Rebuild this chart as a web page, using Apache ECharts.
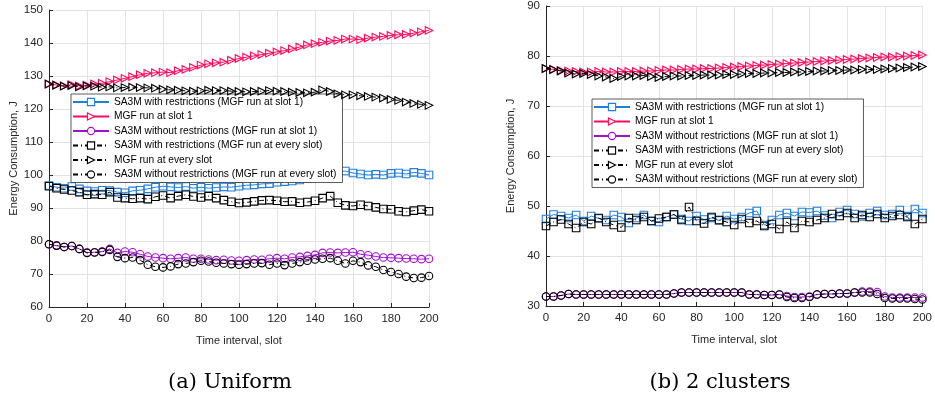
<!DOCTYPE html>
<html><head><meta charset="utf-8">
<script src="https://cdn.jsdelivr.net/npm/echarts@6/dist/echarts.min.js"></script>
<style>html,body{margin:0;padding:0;background:#fff}#c{width:935px;height:405px}</style>
</head><body><div id="c"></div>
<script>
const slots = [0,4,8,12,16,20,24,28,32,36,40,44,48,52,56,60,64,68,72,76,80,84,88,92,96,100,104,108,112,116,120,124,128,132,136,140,144,148,152,156,160,164,168,172,176,180,184,188,192,196,200];
const seriesNames = ['SA3M with restrictions (MGF run at slot 1)','MGF run at slot 1','SA3M without restrictions (MGF run at slot 1)','SA3M with restrictions (MGF run at every slot)','MGF run at every slot','SA3M without restrictions (MGF run at every slot)'];
const xTicks = [0,20,40,60,80,100,120,140,160,180,200];
const captions = ['(a) Uniform','(b) 2 clusters'];
const yTitle = 'Energy Consumption, J';
const xTitle = 'Time interval, slot';

// (a) Uniform
const aBlueSlot1 = [96.8,96.3,96.0,96.5,95.8,95.2,95.0,95.4,95.3,94.8,94.6,95.2,95.4,95.8,96.3,96.6,96.4,96.2,96.5,96.0,96.3,96.0,96.2,96.4,96.3,96.6,96.9,97.0,97.3,97.4,97.8,98.0,98.2,98.5,98.9,99.2,99.8,100.6,101.0,101.2,100.6,100.3,100.0,100.2,100.0,100.5,100.6,100.3,100.8,100.5,100.0];
const aPinkSlot1 = [127.5,127.3,127.0,127.4,127.0,127.2,127.6,127.8,128.3,128.8,129.3,129.8,130.4,130.8,131.0,131.2,131.0,131.6,132.0,132.6,133.3,133.7,134.0,134.2,134.8,135.3,135.7,136.1,136.5,136.9,137.3,137.7,138.2,138.8,139.4,139.8,140.2,140.6,140.8,141.2,141.2,141.0,141.5,141.8,142.0,142.3,142.5,142.6,143.0,143.4,143.8];
const aPurpleSlot1 = [79.0,78.6,78.2,78.5,77.6,76.5,76.6,76.8,77.6,76.4,76.8,76.6,76.0,75.3,75.0,74.8,74.6,74.8,75.0,74.6,74.6,74.4,74.2,74.3,74.1,74.0,74.2,74.4,74.3,74.6,74.8,74.6,75.0,75.2,75.5,75.8,76.4,76.5,76.4,76.5,76.6,76.0,75.7,75.3,75.0,74.9,74.8,74.7,74.6,74.5,74.6];
const aBlackSq = [96.6,96.0,95.6,95.3,94.8,94.0,94.2,94.0,94.8,93.2,93.0,92.8,93.0,92.7,93.4,93.8,93.0,93.6,94.0,93.5,93.2,93.6,93.0,92.4,91.9,91.5,91.7,92.0,92.3,92.4,92.2,91.9,92.0,91.6,91.8,92.2,93.0,93.6,91.6,90.8,90.6,91.0,90.6,90.2,89.7,89.6,89.0,88.8,89.2,89.5,89.0];
const aBlackTri = [127.6,127.2,126.9,127.1,126.7,127.0,126.9,126.6,126.7,126.4,126.5,126.6,126.5,126.4,126.3,126.0,125.8,125.7,125.5,125.4,125.5,125.7,125.6,125.6,125.4,125.3,125.2,125.3,125.4,125.6,125.4,125.3,125.1,125.0,124.9,125.1,125.8,125.3,124.6,124.3,124.3,124.0,123.8,123.6,123.3,122.9,122.6,122.1,121.7,121.4,121.1];
const aBlackCirc = [79.0,78.6,78.2,78.5,77.6,76.4,76.5,76.7,77.3,75.2,74.8,75.0,74.2,72.8,72.2,72.0,72.3,73.0,73.2,73.6,74.0,73.8,73.4,73.2,73.0,72.8,73.0,73.2,73.3,72.8,73.2,72.7,73.2,73.6,74.0,74.4,74.6,74.8,74.0,73.2,74.0,73.6,72.6,72.2,71.2,70.6,70.0,69.2,68.8,68.9,69.4];

// (b) 2 clusters
const bBlueSlot1 = [47.4,48.3,48.0,47.6,48.2,47.0,48.0,47.5,47.2,48.2,47.8,46.6,47.6,48.2,47.0,46.8,47.8,48.3,47.4,47.0,48.0,47.3,47.6,47.1,48.0,47.4,47.8,48.6,49.0,46.2,47.2,48.2,48.6,48.0,48.8,48.7,49.0,48.1,47.6,48.8,49.2,48.4,47.9,48.6,49.0,48.2,48.4,49.2,48.0,49.4,48.6];
const bPinkSlot1 = [77.5,77.3,77.1,77.0,76.9,76.8,76.8,76.9,76.8,76.8,76.9,76.9,76.9,77.0,77.0,77.1,77.2,77.2,77.3,77.4,77.4,77.5,77.5,77.6,77.7,77.8,77.9,78.0,78.1,78.2,78.3,78.4,78.5,78.6,78.7,78.8,78.9,79.0,79.1,79.2,79.3,79.4,79.5,79.6,79.7,79.8,79.8,79.9,80.0,80.1,80.2];
const bPurpleSlot1 = [31.9,31.9,32.1,32.4,32.3,32.3,32.3,32.3,32.3,32.3,32.3,32.3,32.3,32.3,32.3,32.3,32.3,32.5,32.7,32.7,32.7,32.7,32.7,32.7,32.7,32.7,32.7,32.3,32.3,32.2,32.2,32.3,32.0,31.8,31.8,31.9,32.3,32.4,32.4,32.5,32.5,32.7,32.9,32.9,32.8,31.9,31.7,31.7,31.7,31.7,31.7];
const bBlackSq = [46.0,46.8,47.3,46.4,45.6,46.8,46.4,47.6,46.8,46.2,45.7,47.6,47.2,47.8,47.0,47.5,47.8,48.3,47.2,49.8,47.0,46.5,47.8,47.2,46.8,46.2,47.4,46.6,47.0,46.0,46.4,45.4,46.8,45.6,47.0,46.8,47.2,47.6,48.4,48.0,48.6,47.6,48.2,47.8,48.4,47.6,48.0,48.2,47.8,46.4,47.4];
const bBlackTri = [77.5,77.3,77.0,76.6,76.4,76.5,76.3,76.0,75.8,75.5,75.9,76.0,76.0,76.1,75.9,75.7,75.9,76.0,76.0,76.1,76.1,76.2,76.2,76.2,76.3,76.3,76.4,76.5,76.5,76.6,76.6,76.7,76.7,76.8,76.8,76.9,77.0,77.0,77.1,77.1,77.2,77.2,77.3,77.3,77.3,77.4,77.5,77.6,77.7,77.8,77.9];
const bBlackCirc = [31.9,31.9,32.1,32.4,32.3,32.3,32.3,32.3,32.3,32.3,32.3,32.3,32.3,32.3,32.3,32.3,32.3,32.5,32.7,32.7,32.7,32.7,32.7,32.7,32.7,32.7,32.7,32.3,32.3,32.2,32.2,32.3,31.8,31.6,31.6,31.8,32.3,32.4,32.4,32.5,32.5,32.7,32.7,32.7,32.4,31.6,31.5,31.5,31.5,31.4,31.3];

const colors = ['#1f7fe0','#ff0a5e','#a010d0','#000000','#000000','#000000'];
const symbols = ['rect','triangle','circle','rect','triangle','circle'];
const rotates = [0,-90,0,0,-90,0];
const sizes = [7.5,7.5,7.5,7.5,7.5,7.5];
const dashDot = [5,3,1,3];

const axisColor = '#262626';
const gridColor = '#e3e3e3';
const font = 'Liberation Sans, Arial, sans-serif';

function pairs(ys){ return slots.map((s,i)=>[s, ys[i]]); }

function mkSeries(idx, data, k){
  return {
    name: seriesNames[k], type:'line', xAxisIndex: idx, yAxisIndex: idx,
    data: pairs(data), symbol: symbols[k], symbolSize: sizes[k], symbolRotate: rotates[k],
    showAllSymbol: true, animation:false,
    itemStyle: {color: 'rgba(255,255,255,0)', borderColor: colors[k], borderWidth: 1.1, opacity: 1},
    lineStyle: {color: colors[k], width: 1, type: k>=3 ? dashDot : 'solid'},
    emphasis: {disabled: true}, z: 2 + k
  };
}

function xAxis(idx){
  return {
    gridIndex: idx, type:'value', min:0, max:200, interval:20,
    name: xTitle, nameLocation:'middle', nameGap: 28,
    nameTextStyle:{color:axisColor, fontSize:11, fontFamily:font},
    axisLine:{show:true, lineStyle:{color:axisColor, width:1}},
    axisTick:{show:true, inside:true, length:4, lineStyle:{color:axisColor}},
    axisLabel:{color:axisColor, fontSize:11.5, fontFamily:font, margin:6},
    splitLine:{show:true, lineStyle:{color:gridColor, width:1}}
  };
}
function yAxis(idx, mn, mx){
  return {
    gridIndex: idx, type:'value', min:mn, max:mx, interval:10,
    name: yTitle, nameLocation:'middle', nameGap: 30, nameRotate: 90,
    nameTextStyle:{color:axisColor, fontSize:11, fontFamily:font},
    axisLine:{show:true, lineStyle:{color:axisColor, width:1}},
    axisTick:{show:true, inside:true, length:4, lineStyle:{color:axisColor}},
    axisLabel:{color:axisColor, fontSize:11.5, fontFamily:font, margin:6},
    splitLine:{show:true, lineStyle:{color:gridColor, width:1}}
  };
}
function legend(left, top){
  return {
    left:left, top:top, orient:'vertical', data: seriesNames,
    backgroundColor:'#fff', borderColor:'#333', borderWidth:0.8,
    padding:[2,6,2,1], itemWidth:36, itemHeight:9, itemGap:2.5,
    itemStyle:{color:'#ffffff', borderWidth:1.1},
    textStyle:{color:'#000', fontSize:10.2, fontFamily:font, lineHeight:12},
    selectedMode:false, inactiveColor:'#000'
  };
}

const aData = [aBlueSlot1,aPinkSlot1,aPurpleSlot1,aBlackSq,aBlackTri,aBlackCirc];
const bData = [bBlueSlot1,bPinkSlot1,bPurpleSlot1,bBlackSq,bBlackTri,bBlackCirc];

const chart = echarts.init(document.getElementById('c'), null, {renderer:'canvas'});
chart.setOption({
  animation:false,
  grid:[{left:49, top:10, width:380, height:297},{left:546, top:6, width:382, height:300}],
  xAxis:[xAxis(0), xAxis(1)],
  yAxis:[yAxis(0,60,150), yAxis(1,30,90)],
  legend:[legend(71,94), legend(592,99)],
  title:[
    {text:captions[0], left:225, top:367, textAlign:'center', textStyle:{fontFamily:'DejaVu Serif, serif', fontSize:21, fontWeight:'normal', color:'#000'}},
    {text:captions[1], left:715, top:367, textAlign:'center', textStyle:{fontFamily:'DejaVu Serif, serif', fontSize:21, fontWeight:'normal', color:'#000'}}
  ],
  series: aData.map((d,k)=>mkSeries(0,d,k)).concat(bData.map((d,k)=>mkSeries(1,d,k)))
});
</script></body></html>
